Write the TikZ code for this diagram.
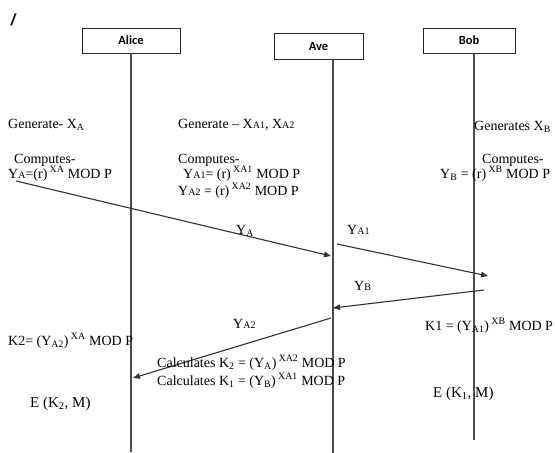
\documentclass[tikz,border=0pt]{standalone}
\usepackage{fontspec}
\setmainfont{Liberation Serif}
\newfontfamily\boxfont{Carlito}
\usetikzlibrary{arrows.meta,positioning}

% small letters sitting on the baseline
\newcommand{\sm}[1]{{\fontsize{10}{12}\selectfont #1}}
\newcommand{\lo}[1]{\textsubscript{#1}}
\newcommand{\hi}[1]{\textsuperscript{#1}}

\begin{document}
\begin{tikzpicture}[x=1pt, y=-1pt, every node/.style={font=\fontsize{14}{16}\selectfont, inner sep=0pt, anchor=base west}, box/.style={draw=black!85, line width=0.9pt, anchor=center, minimum height=25pt, font=\boxfont\bfseries\fontsize{12.5}{14}\selectfont}, life/.style={draw=black!70, line width=1.1pt}, arrow/.style={-{Triangle[length=7pt,width=5.5pt]}, draw=black!80, line width=1.1pt}]
\useasboundingbox (0,0) rectangle (555,453);
\node[anchor=center, font=\fontspec{Liberation Sans}\bfseries\itshape\fontsize{16}{18}\selectfont] (mark) at (13,20) {/};
% actors
\node[box, minimum width=98pt] (alice) at (131,40.5) {Alice};
\node[box, minimum width=89pt, minimum height=26pt] (ave) at (318.5,46) {Ave};
\node[box, minimum width=92pt] (bob) at (469,40.5) {Bob};
\coordinate (aliceEnd) at (131,452);
\coordinate (aveEnd) at (333,453);
\coordinate (bobEnd) at (474,440);
\draw[life] (alice.south) -- (aliceEnd);
\draw[life] (ave.south -| aveEnd) -- (aveEnd);
\draw[life] (bob.south -| bobEnd) -- (bobEnd);
% key generation
\node (genA) at (8,128) {Generate- X\lo{A}};
\node (genE) at (178,128) {Generate -- X\sm{A1}, X\sm{A2}};
\node (genB) at (474,130) {Generates X\lo{B}};
\node (compA) at (14,163) {Computes-};
\node (yA) at (8,178) {Y\sm{A}=(r)\,\hi{XA} MOD P};
\node (compE) at (178,163) {Computes-};
\node (yA1) at (183,178) {Y\sm{A1}= (r)\,\hi{XA1} MOD P};
\node (yA2) at (178,195) {Y\sm{A2} = (r)\,\hi{XA2} MOD P};
\node (compB) at (482,163) {Computes-};
\node (yB) at (440,178) {Y\lo{B} = (r)\,\hi{XB} MOD P};
% messages
\coordinate (m1s) at (16,181);
\coordinate (m1e) at (331,256);
\coordinate (m2s) at (337,244);
\coordinate (m2e) at (488,276);
\coordinate (m3s) at (484,290);
\coordinate (m3e) at (333,308);
\coordinate (m4s) at (331,318);
\coordinate (m4e) at (133,378);
\draw[arrow] (m1s) -- (m1e);
\draw[arrow] (m2s) -- (m2e);
\draw[arrow] (m3s) -- (m3e);
\draw[arrow] (m4s) -- (m4e);
\node (lA) at (236,234) {Y\lo{A}};
\node (lA1) at (347,234) {Y\sm{A1}};
\node (lB) at (354,290) {Y\sm{B}};
\node (lA2) at (233,328) {Y\sm{A2}};
% session keys
\node (kA) at (8,345) {K2= (Y\lo{A2})\,\hi{XA} MOD P};
\node (kB) at (425,330) {K1 = (Y\lo{A1})\,\hi{XB} MOD P};
\node (kE2) at (157,367) {Calculates K\lo{2} = (Y\lo{A})\,\hi{XA2} MOD P};
\node (kE1) at (157,385) {Calculates K\lo{1} = (Y\lo{B})\,\hi{XA1} MOD P};
\node[font=\fontsize{15}{17}\selectfont] (encA) at (30,407) {E (K\lo{2}, M)};
\node[font=\fontsize{15}{17}\selectfont] (encB) at (433,397) {E (K\lo{1}, M)};
\end{tikzpicture}
\end{document}
